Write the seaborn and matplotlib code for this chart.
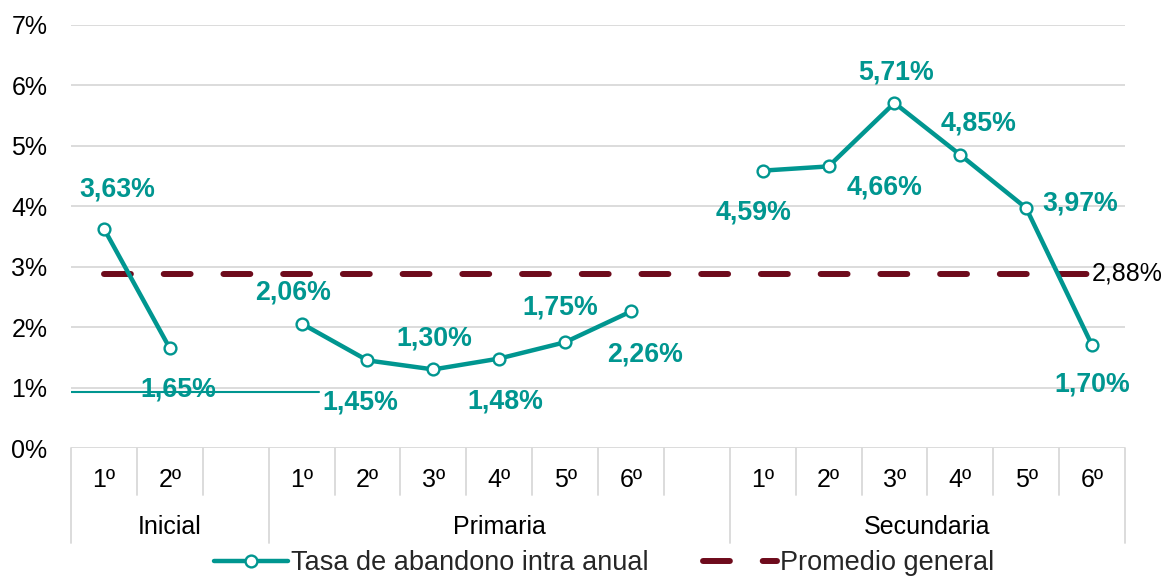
import numpy as np
import pandas as pd
import matplotlib
matplotlib.use("Agg")
import matplotlib.pyplot as plt
import seaborn as sns
from matplotlib.lines import Line2D

# ---------------- data ----------------
group_names = ["Inicial", "Primaria", "Secundaria"]
slot_group = ["Inicial"] * 3 + ["Primaria"] * 7 + ["Secundaria"] * 6
grade_labels = ["1º", "2º", "",
                "1º", "2º", "3º", "4º", "5º", "6º", "",
                "1º", "2º", "3º", "4º", "5º", "6º"]
rates = [3.63, 1.65, np.nan,
         2.06, 1.45, 1.30, 1.48, 1.75, 2.26, np.nan,
         4.59, 4.66, 5.71, 4.85, 3.97, 1.70]
average_rate = 2.88
stray_level = 0.93          # thin stray line present in the source chart
stray_span = [-0.5, 3.26]

series_label = "Tasa de abandono intra anual"
avg_label = "Promedio general"

# label offsets (pixels) for each data point label, in order of valid points
label_offsets = [(13, 39), (8, -41),
                 (-9, 31), (-7, -42), (1, 31), (6, -43), (-5, 35), (14, -43),
                 (-9, -42), (56, -21), (2, 30), (18, 31), (54, 5), (0, -39)]

TEAL = "#009690"
DARKRED = "#6E0B1C"
GRID = "#D9D9D9"
FS = 18
FS_LBL = 19.3
FS_LEG = 19.5

sns.set_theme(style="white")
plt.rcParams["font.family"] = ["Liberation Sans", "DejaVu Sans"]

pos = np.arange(len(rates))
df = pd.DataFrame({"pos": pos, "rate": rates, "group": slot_group})
valid = df.dropna()

fig = plt.figure(figsize=(11.67, 5.78), dpi=100)
W, H = 1167, 578
left_px, right_px, top_px, bottom_px = 71, 1125, 25, 448
ax = fig.add_axes([left_px / W, 1 - bottom_px / H,
                   (right_px - left_px) / W, (bottom_px - top_px) / H])

ax.set_xlim(-0.5, len(rates) - 0.5)
ax.set_ylim(0, 7)
ax.set_yticks(range(0, 8))
ax.set_yticklabels([f"{v}%" for v in range(0, 8)], fontsize=FS, color="black")
ax.tick_params(axis="y", length=0, pad=17)
ax.set_xticks([])
for s in ax.spines.values():
    s.set_visible(False)
for v in range(0, 8):
    ax.axhline(v, color=GRID, lw=1.3, zorder=0)

# stray line
ax.plot(stray_span, [stray_level, stray_level], color=TEAL, lw=1.5, zorder=2)

# average dashed line
sns.lineplot(x=pos, y=[average_rate] * len(pos), ax=ax, color=DARKRED,
             lw=4.3, zorder=3, legend=False)
avg_line = ax.lines[-1]
avg_line.set_dashes((4.5, 5.5))
avg_line.set_dash_capstyle("round")
avg_line.set_solid_capstyle("round")

# main series
sns.lineplot(data=valid, x="pos", y="rate", units="group", estimator=None,
             ax=ax, color=TEAL, lw=3.2, marker="o", markersize=8.5,
             markerfacecolor="white", markeredgecolor=TEAL,
             markeredgewidth=1.7, zorder=4, legend=False)
ax.set_xlabel("")
ax.set_ylabel("")

# data labels
for (x, y), (dx, dy) in zip(valid[["pos", "rate"]].values, label_offsets):
    txt = f"{y:.2f}".replace(".", ",") + "%"
    ax.annotate(txt, (x, y), xytext=(dx, dy), textcoords="offset pixels",
                ha="center", va="center", fontsize=FS_LBL, fontweight="bold",
                color=TEAL, zorder=5)

ax.annotate(f"{average_rate:.2f}".replace(".", ",") + "%",
            (len(rates) - 1, average_rate), xytext=(0, 0),
            textcoords="offset pixels", ha="left", va="center",
            fontsize=FS, color="black", zorder=5)

# category table below axis
axh = bottom_px - top_px
tr = ax.get_xaxis_transform()
cat_bottom = -(495 - bottom_px) / axh
grp_bottom = -(543 - bottom_px) / axh
cat_text_y = -(480 - bottom_px) / axh
grp_text_y = -(527 - bottom_px) / axh

group_edges = [-0.5]
for i in range(1, len(slot_group)):
    if slot_group[i] != slot_group[i - 1]:
        group_edges.append(i - 0.5)
group_edges.append(len(slot_group) - 0.5)

for b in np.arange(-0.5, len(rates), 1.0):
    yb = grp_bottom if any(abs(b - g) < 1e-9 for g in group_edges) else cat_bottom
    ax.plot([b, b], [0, yb], transform=tr, color=GRID, lw=1.3, clip_on=False)

for x, lab in zip(pos, grade_labels):
    if lab:
        ax.text(x, cat_text_y, lab, transform=tr, ha="center", va="center",
                fontsize=FS, color="black")
for gname in group_names:
    idx = [i for i, g in enumerate(slot_group) if g == gname]
    ax.text((idx[0] + idx[-1]) / 2, grp_text_y, gname, transform=tr,
            ha="center", va="center", fontsize=FS, color="black")

# legend
h1 = Line2D([], [], color=TEAL, lw=3.2, marker="o", markersize=8.5,
            markerfacecolor="white", markeredgecolor=TEAL, markeredgewidth=1.7)
h2 = Line2D([], [], color=DARKRED, lw=4.3, dashes=(4.5, 5.5),
            dash_capstyle="round")
fig.legend([h1, h2], [series_label, avg_label], loc="center",
           bbox_to_anchor=(604 / W, 1 - 563 / H), ncol=2, frameon=False,
           fontsize=FS_LEG, handlelength=2.75, handletextpad=0.1,
           columnspacing=2.0, borderpad=0, borderaxespad=0)

fig.savefig("out.png", dpi=100)
